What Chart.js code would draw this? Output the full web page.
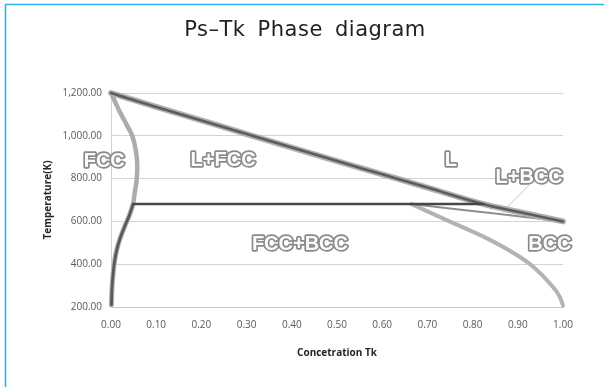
<!DOCTYPE html>
<html><head><meta charset="utf-8">
<script src="https://cdn.jsdelivr.net/npm/chart.js@4/dist/chart.umd.min.js"></script>
<style>html,body{margin:0;padding:0;background:#fff}#wrap{width:604px;height:387px;position:relative}</style>
</head><body><div id="wrap"><canvas id="c" width="604" height="387"></canvas></div>
<script>
// ---- title & tick labels ----
const chartTitle = 'Ps\u2013Tk Phase diagram';
const xTicks = [0, 0.1, 0.2, 0.3, 0.4, 0.5, 0.6, 0.7, 0.8, 0.9, 1.0];
const yTicks = [200, 400, 600, 800, 1000, 1200];

// ---- phase boundaries (concentration Tk, temperature K) ----
const liquidusX = [0, 0.1, 0.2, 0.3, 0.4, 0.5, 0.6, 0.7, 0.82, 0.9, 1.0];
const liquidusT = [1200, 1135, 1072, 1008, 945, 882, 820, 758, 683, 645, 600];

const fccSolidusX = [0, 0.02, 0.035, 0.047, 0.055, 0.058, 0.057, 0.053, 0.049];
const fccSolidusT = [1200, 1110, 1050, 1000, 930, 870, 800, 740, 681];

const fccSolvusX = [0.049, 0.04, 0.03, 0.02, 0.012, 0.007, 0.004, 0.002, 0.001];
const fccSolvusT = [681, 625, 575, 520, 460, 400, 340, 280, 210];

const eutecticX = [0.049, 0.823];
const eutecticT = [681, 681];

const bccSolidusX = [0.665, 0.75, 0.85, 0.93, 1.0];
const bccSolidusT = [681, 660, 637, 617, 600];

const bccSolvusX = [0.665, 0.7, 0.75, 0.824, 0.898, 0.934, 0.971, 0.993, 1.0];
const bccSolvusT = [681, 647, 599, 529, 443, 388, 310, 247, 208];

const leaderX = [0.867, 0.925];
const leaderT = [646, 770];

// ---- region labels ----
const regionNames = ["FCC", "L+FCC", "L", "L+BCC", "FCC+BCC", "BCC"];
const regionX = [-0.015, 0.248, 0.752, 0.925, 0.418, 0.971];
const regionT = [879, 886, 884, 807, 494, 494];

const pts = (xs, ys) => xs.map((x, i) => ({x: x, y: ys[i]}));

function line(data, color, width, order, tension, mono) {
  const d = {data: data, showLine: true, borderColor: color, backgroundColor: color,
    borderWidth: width, pointRadius: 0, pointHoverRadius: 0, tension: tension || 0,
    order: order, borderCapStyle: 'round', borderJoinStyle: 'round', clip: false};
  if (mono) d.cubicInterpolationMode = 'monotone';
  return d;
}

const framePlugin = {
  id: 'frame',
  beforeDraw(chart) {
    const ctx = chart.ctx;
    ctx.save();
    ctx.fillStyle = '#ffffff';
    ctx.fillRect(0, 0, chart.width, chart.height);
    ctx.strokeStyle = '#2db4ec';
    ctx.lineWidth = 1.6;
    ctx.beginPath();
    ctx.moveTo(5.5, chart.height + 2);
    ctx.lineTo(5.5, 4.5);
    ctx.lineTo(chart.width + 2, 4.5);
    ctx.stroke();
    ctx.fillStyle = '#222222';
    ctx.font = '21px "DejaVu Sans"';
    ctx.textAlign = 'center';
    ctx.textBaseline = 'middle';
    try { ctx.letterSpacing = '0.5px'; ctx.wordSpacing = '5px'; } catch (e) {}
    ctx.fillText(chartTitle, 305, 31);
    ctx.restore();
  }
};

const regionPlugin = {
  id: 'regions',
  afterDatasetsDraw(chart) {
    const ctx = chart.ctx, sx = chart.scales.x, sy = chart.scales.y;
    ctx.save();
    ctx.font = 'bold 20px "Liberation Sans"';
    ctx.textAlign = 'center';
    ctx.textBaseline = 'middle';
    ctx.lineJoin = 'round';
    regionNames.forEach((t, i) => {
      const px = sx.getPixelForValue(regionX[i]);
      const py = sy.getPixelForValue(regionT[i]);
      ctx.lineWidth = 3.4;
      ctx.strokeStyle = '#8a8a8a';
      ctx.strokeText(t, px, py);
      ctx.fillStyle = '#fbfbfb';
      ctx.fillText(t, px, py);
    });
    ctx.restore();
  }
};

new Chart(document.getElementById('c'), {
  type: 'scatter',
  data: {
    datasets: [
      line(pts(leaderX, leaderT), '#c4c4c4', 1, 20),
      line(pts(bccSolvusX, bccSolvusT), '#b3b3b3', 4, 12, 0.4, true),
      line(pts(bccSolidusX, bccSolidusT), '#8e8e8e', 2, 11, 0.4, true),
      line(pts(fccSolidusX, fccSolidusT), '#acacac', 4.5, 10, 0.4),
      line(pts(fccSolvusX, fccSolvusT), '#b4b4b4', 5, 9, 0.35),
      line(pts(fccSolvusX, fccSolvusT), '#5a5a5a', 2.8, 3, 0.35),
      line(pts(liquidusX, liquidusT), '#b0b0b0', 6, 8, 0.4, true),
      line(pts(liquidusX, liquidusT), '#5c5c5c', 2.6, 2, 0.4, true),
      line(pts(eutecticX, eutecticT), '#474747', 2.4, 1)
    ]
  },
  options: {
    responsive: false,
    animation: false,
    devicePixelRatio: 1,
    layout: {padding: {left: 0, right: 41, top: 93, bottom: 0}},
    plugins: {
      legend: {display: false},
      tooltip: {enabled: false},
      title: {display: false}
    },
    scales: {
      x: {
        type: 'linear', min: 0, max: 1,
        afterBuildTicks: s => { s.ticks = xTicks.map(v => ({value: v})); },
        afterFit: s => { s.height = 80; },
        ticks: {color: '#595959', font: {family: '"Open Sans"', size: 10}, padding: 12,
          callback: v => Number(v).toFixed(2), maxRotation: 0, autoSkip: false},
        grid: {display: false, drawTicks: false},
        border: {display: true, color: '#c8c8c8', width: 1},
        title: {display: true, text: 'Concetration Tk', color: '#262626',
          font: {family: '"Open Sans"', size: 10, weight: 'bold'}, padding: {top: 0, bottom: 28}}
      },
      y: {
        type: 'linear', min: 200, max: 1200,
        afterBuildTicks: s => { s.ticks = yTicks.map(v => ({value: v})); },
        afterFit: s => { s.width = 111; },
        ticks: {color: '#595959', font: {family: '"Open Sans"', size: 10}, padding: 9,
          callback: v => Number(v).toLocaleString('en-US', {minimumFractionDigits: 2, maximumFractionDigits: 2})},
        grid: {color: '#d4d4d4', lineWidth: 1, drawTicks: false},
        border: {display: true, color: '#d0d0d0', width: 1},
        title: {display: true, text: 'Temperature(K)', color: '#262626',
          font: {family: '"Open Sans"', size: 10, weight: 'bold'}, padding: {top: 42, bottom: 0}}
      }
    }
  },
  plugins: [framePlugin, regionPlugin]
});
</script>
</body></html>
